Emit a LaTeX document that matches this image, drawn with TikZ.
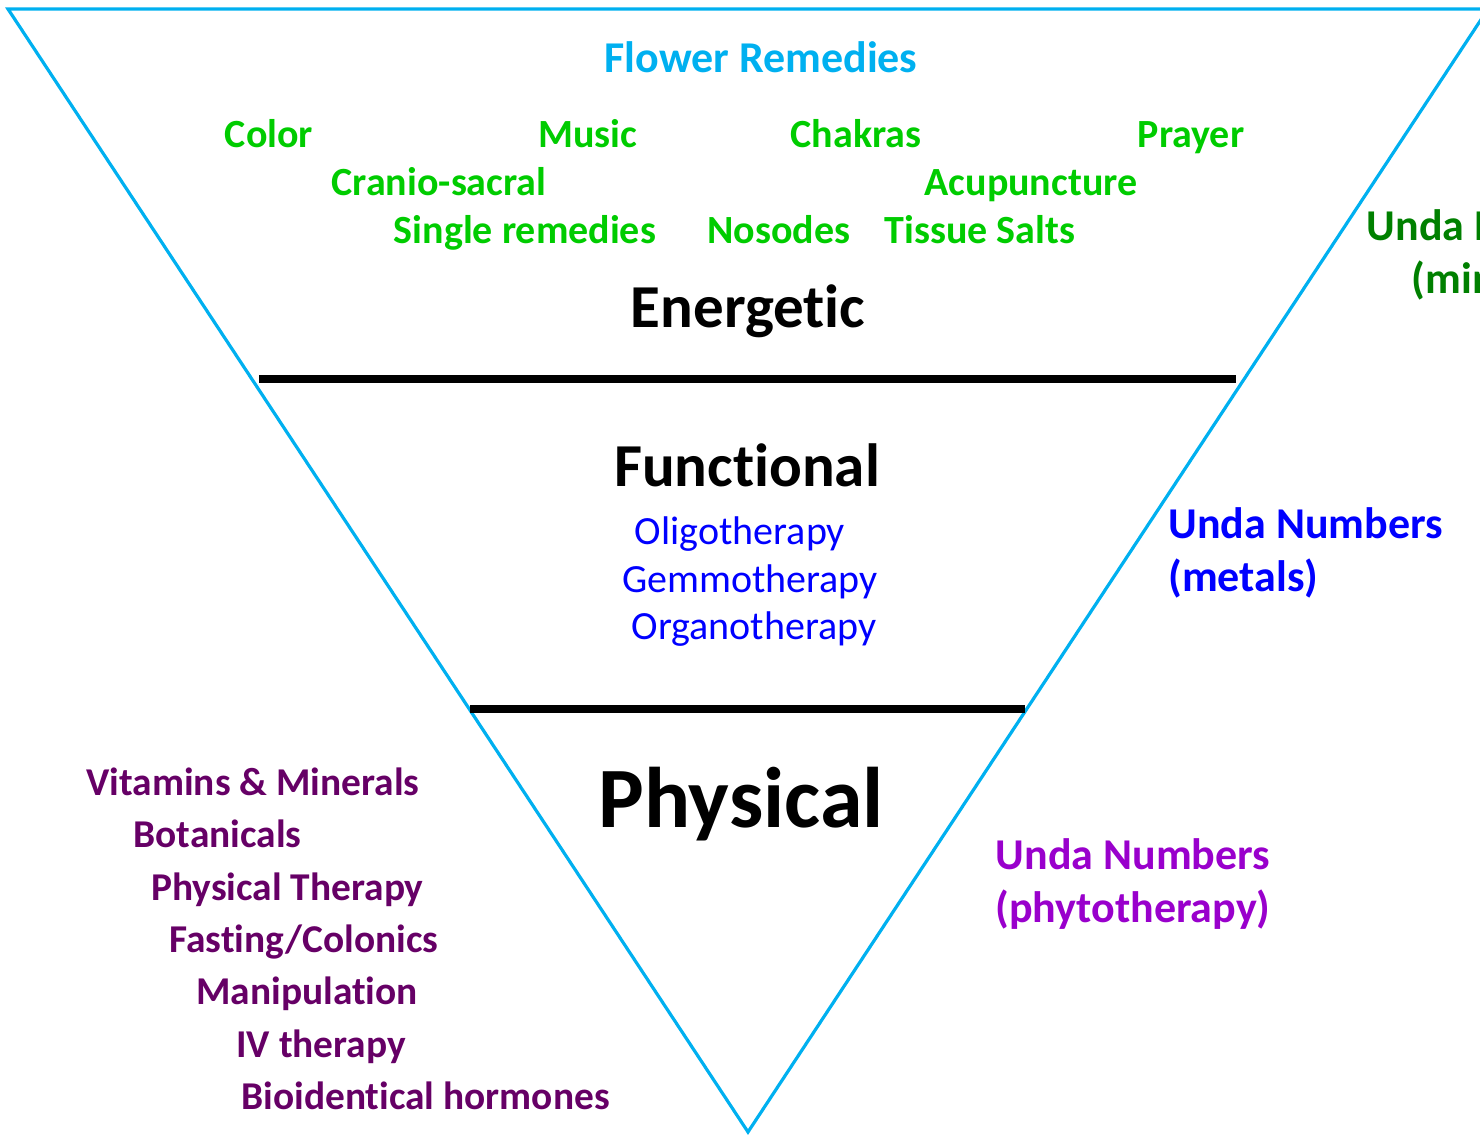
\documentclass[tikz,border=0pt]{standalone}
\usepackage{fontspec}
\setmainfont{Carlito}[Ligatures=NoCommon]
\usepackage{xcolor}
\definecolor{triblue}{RGB}{0,176,240}
\definecolor{energygreen}{RGB}{0,204,0}
\definecolor{darkgreen}{RGB}{0,128,0}
\definecolor{funcblue}{RGB}{0,0,255}
\definecolor{physpurple}{RGB}{102,0,102}
\definecolor{phytopurple}{RGB}{153,0,204}

\begin{document}
\begin{tikzpicture}[x=0.5pt,y=-0.5pt,
  every node/.style={inner sep=0pt,anchor=base},
  level/.style={black,font=\bfseries\fontsize{30.5}{36}\selectfont},
  energy/.style={energygreen,font=\bfseries\fontsize{20}{24}\selectfont},
  func/.style={funcblue,font=\fontsize{20}{24}\selectfont},
  phys/.style={physpurple,font=\bfseries\fontsize{19.7}{24}\selectfont,anchor=base west},
  unda/.style={font=\bfseries\fontsize{22}{26.5}\selectfont},
  divider/.style={black,line width=4pt}]
\useasboundingbox (0,0) rectangle (1480,1135);

%%%triangle
\coordinate (topleft) at (8,9);
\coordinate (topright) at (1488,9);
\coordinate (apex) at (748,1132);
\draw[triblue,line width=1.6pt] (topleft)--(topright)--(apex)--cycle;

%%%dividers
\coordinate (upperL) at (259,379);
\coordinate (upperR) at (1236,379);
\coordinate (lowerL) at (470,709);
\coordinate (lowerR) at (1025,709);
\draw[divider] (upperL)--(upperR);
\draw[divider] (lowerL)--(lowerR);

%%%energetic
\node[energy,triblue,font=\bfseries\fontsize{22}{26}\selectfont] (flower) at (761,72) {Flower Remedies};
\node[energy] (color) at (269,148) {Color};
\node[energy] (music) at (588,148) {Music};
\node[energy] (chakras) at (856,148) {Chakras};
\node[energy] (prayer) at (1191,148) {Prayer};
\node[energy] (cranio) at (439,195) {Cranio-sacral};
\node[energy] (acupuncture) at (1031,195) {Acupuncture};
\node[energy] (single) at (525,243) {Single remedies};
\node[energy] (nosodes) at (779,243) {Nosodes};
\node[energy] (tissue) at (980,243) {Tissue Salts};
\node[level] (energetic) at (748,327) {Energetic};

%%%functional
\node[level] (functional) at (747,486) {Functional};
\node[func] (oligo) at (740,544) {Oligotherapy};
\node[func] (gemmo) at (750,592) {Gemmotherapy};
\node[func] (organo) at (754,639) {Organotherapy};

%%%physical
\node[level,font=\bfseries\fontsize{43}{50}\selectfont] (physical) at (741,827) {Physical};
\node[phys] (vitamins) at (86,795) {Vitamins \& Minerals};
\node[phys] (botanicals) at (133,847) {Botanicals};
\node[phys] (phystherapy) at (151,900) {Physical Therapy};
\node[phys] (fasting) at (169,952) {Fasting/Colonics};
\node[phys] (manipulation) at (196,1004) {Manipulation};
\node[phys] (ivtherapy) at (236,1057) {IV therapy};
\node[phys] (hormones) at (241,1109) {Bioidentical hormones};

%%%unda numbers (base = last line)
\node[unda,darkgreen,align=center] (undaminerals) at (1504,293) {Unda Numbers\\(minerals)};
\node[unda,funcblue,align=left,anchor=base west] (undametals) at (1168,591) {Unda Numbers\\(metals)};
\node[unda,phytopurple,align=center] (undaphyto) at (1133,922) {Unda Numbers\\(phytotherapy)};

\end{tikzpicture}
\end{document}
